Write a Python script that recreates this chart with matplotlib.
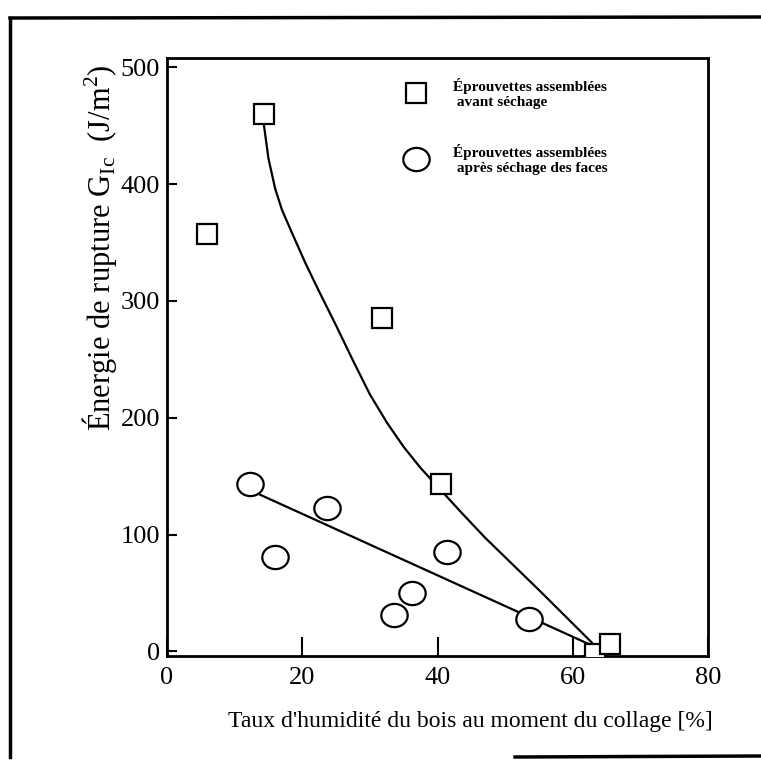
import numpy as np
import matplotlib
matplotlib.use("Agg")
import matplotlib.pyplot as plt
from matplotlib.lines import Line2D
from matplotlib.path import Path
from matplotlib.markers import MarkerStyle
from matplotlib.transforms import Affine2D

plt.rcParams['font.family'] = ['Liberation Serif', 'DejaVu Serif']
plt.rcParams['mathtext.fontset'] = 'custom'
plt.rcParams['mathtext.rm'] = 'Liberation Serif'

# eprouvettes assemblees avant sechage (carres)
x_avant = [5.9, 14.3, 31.8, 40.5, 63.3, 65.5]
y_avant = [357, 460, 285, 143, -2, 6]

# eprouvettes assemblees apres sechage des faces (cercles)
x_apres = [12.3, 16.0, 23.7, 33.6, 36.2, 41.4, 53.6]
y_apres = [143, 81, 123, 31, 50, 85, 28]

# courbe tracee a la main (avant sechage)
x_courbe = [14.3, 15.0, 16.0, 17.0, 18.5, 20.5, 22.5, 25.0, 27.5, 30.0,
            32.5, 35.0, 37.5, 40.5, 43.5, 47.0, 51.0, 55.0, 59.0, 63.6]
y_courbe = [452, 422, 396, 378, 358, 332, 308, 279, 249, 220,
            196, 175, 157, 138, 119, 97.5, 75, 52.5, 29.5, 3]

# droite (apres sechage)
x_droite = [13.8, 63.6]
y_droite = [134, 3]

x_ticks = [0, 20, 40, 60, 80]
y_ticks = [0, 100, 200, 300, 400, 500]

fig = plt.figure(figsize=(7.61, 7.70), dpi=100)
ax = fig.add_axes([167/761, 1-656/770, 541/761, 598/770])

ellipse = MarkerStyle(Path.unit_circle().transformed(Affine2D().scale(1.0, 0.88)))

ax.plot(x_courbe, y_courbe, c='k', lw=1.6, zorder=2)
ax.plot(x_droite, y_droite, c='k', lw=1.6, zorder=2)
ax.plot(x_avant, y_avant, ls='none', marker='s', ms=15, mfc='white', mec='k', mew=1.6, zorder=3,
        label="Éprouvettes assemblées\n avant séchage")
ax.plot(x_apres, y_apres, ls='none', marker=ellipse, ms=19, mfc='white', mec='k', mew=1.6, zorder=3,
        label="Éprouvettes assemblées\n après séchage des faces")

ax.set_xlim(0, 80)
ax.set_ylim(-4, 508)
ax.set_xticks(x_ticks)
ax.set_yticks(y_ticks)
ax.tick_params(axis='both', direction='in', labelsize=19, width=1.5, color='k')
ax.tick_params(axis='x', length=14, pad=8)
ax.tick_params(axis='y', length=7, pad=5)
for s in ax.spines.values():
    s.set_linewidth(2)

leg = ax.legend(loc='upper left', bbox_to_anchor=(0.413, 0.99), frameon=False,
                prop={'weight': 'bold', 'size': 11}, labelspacing=2.3,
                handletextpad=1.7, handlelength=1.5, markerscale=1.0)

fig.text(470/761, 1-722/770, "Taux d'humidité du bois au moment du collage [%]",
         ha='center', va='center', fontsize=17)
fig.text(100/761, 1-248/770, r"Énergie de rupture G$_{\rm Ic}$  (J/m$^{2}$)",
         ha='center', va='center', rotation=90, fontsize=22)

# cadre de la page scannee
fig.add_artist(Line2D([10/761, 1], [1-18/770, 1-17/770], c='k', lw=2.5))
fig.add_artist(Line2D([10/761, 10/761], [1-18/770, 1-757/770], c='k', lw=2.5))
fig.add_artist(Line2D([515/761, 1], [1-757/770, 1-756/770], c='k', lw=2.5))

fig.savefig("out.png", dpi=100)
